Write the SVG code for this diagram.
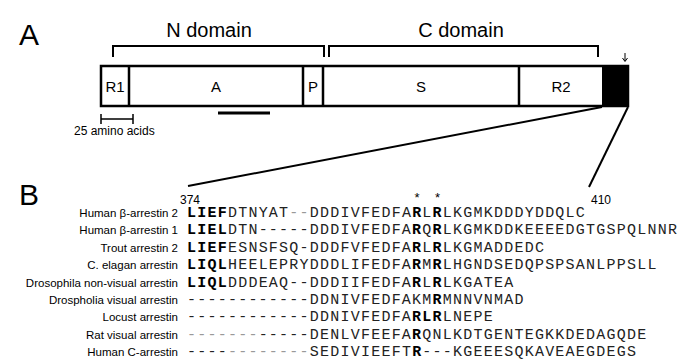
<svg xmlns="http://www.w3.org/2000/svg" width="683" height="360" viewBox="0 0 683 360">
<style>
.big{font-family:"Liberation Sans",Arial,sans-serif;font-size:30px;fill:#000}
.dom{font-family:"Liberation Sans",Arial,sans-serif;font-size:20px;fill:#000}
.seg{font-family:"Liberation Sans",Arial,sans-serif;font-size:15px;fill:#000;text-anchor:middle}
.lab{font-family:"Liberation Sans",Arial,sans-serif;font-size:11.5px;fill:#000;text-anchor:end}
.num{font-family:"Liberation Sans",Arial,sans-serif;font-size:12px;fill:#000;text-anchor:middle}
.ast{font-family:"Liberation Sans",Arial,sans-serif;font-size:13px;fill:#000;text-anchor:middle}
.seq{font-family:"Liberation Mono","Courier New",monospace;font-size:15px;letter-spacing:1.23px;fill:#222}
.b{font-weight:bold;fill:#000}
.r{font-weight:bold;fill:#000}
.g{fill:#999}
.ln{stroke:#000;fill:none}
</style>
<text class="big" x="19" y="45">A</text>
<text class="big" x="19" y="205">B</text>
<g id="brackets">
<text class="dom" x="209" y="37" text-anchor="middle">N domain</text>
<text class="dom" x="461" y="37" text-anchor="middle">C domain</text>
<path class="ln" stroke-width="2" d="M113,57 V46 H324 V57"/>
<path class="ln" stroke-width="2" d="M329,57 V46 H598 V57"/>
</g>
<g id="bar">
<rect x="101" y="66" width="527" height="40" fill="#fff" stroke="#000" stroke-width="2.5"/>
<rect x="602" y="66" width="26" height="40" fill="#000"/>
<path class="ln" stroke-width="2.5" d="M129,66 V106 M303,66 V106 M323,66 V106 M519,66 V106"/>
<text class="seg" x="115" y="92">R1</text>
<text class="seg" x="216" y="92">A</text>
<text class="seg" x="313" y="92">P</text>
<text class="seg" x="421" y="92">S</text>
<text class="seg" x="561" y="92">R2</text>
<path class="ln" stroke-width="1" d="M625,53 V61 M622.5,58 L625,61.5 L627.5,58"/>
</g>
<g id="scale">
<path class="ln" stroke-width="1.5" d="M101,119 H133 M101,114 V124 M133,114 V124"/>
<text class="lab" x="74" y="135" style="text-anchor:start;font-size:12px">25 amino acids</text>
<path class="ln" stroke-width="3" d="M218,113 H270"/>
</g>
<g id="connectors">
<path class="ln" stroke-width="2" d="M602,107 L188,186"/>
<path class="ln" stroke-width="2" d="M628,107 L589,187"/>
</g>
<g id="alignment">
<text class="num" x="190" y="204">374</text>
<text class="num" x="601" y="204">410</text>
<text class="ast" x="417" y="202">*</text>
<text class="ast" x="437.5" y="202">*</text>
<text class="lab" x="178" y="217">Human β-arrestin 2</text>
<text class="lab" x="178" y="234.4">Human β-arrestin 1</text>
<text class="lab" x="178" y="251.8">Trout arrestin 2</text>
<text class="lab" x="178" y="269.1">C. elagan arrestin</text>
<text class="lab" x="178" y="286.5">Drosophila non-visual arrestin</text>
<text class="lab" x="178" y="303.9">Drospholia visual arrestin</text>
<text class="lab" x="178" y="321.3">Locust arrestin</text>
<text class="lab" x="178" y="338.6">Rat visual arrestin</text>
<text class="lab" x="178" y="356">Human C-arrestin</text>
<text class="seq" x="187" y="217"><tspan class="b">LIEF</tspan>DTNYAT<tspan class="g">--</tspan>DDDIVFEDFA<tspan class="r">R</tspan>L<tspan class="r">R</tspan>LKGMKDDDYDDQLC</text>
<text class="seq" x="187" y="234.4"><tspan class="b">LIEL</tspan>DTN-----DDDIVFEDFA<tspan class="r">R</tspan>Q<tspan class="r">R</tspan>LKGMKDDKEEEEDGTGSPQLNNR</text>
<text class="seq" x="187" y="251.8"><tspan class="b">LIEF</tspan>ESNSFSQ-DDDFVFEDFA<tspan class="r">R</tspan>L<tspan class="r">R</tspan>LKGMADDEDC</text>
<text class="seq" x="187" y="269.1"><tspan class="b">LIQL</tspan>HEELEPRYDDDLIFEDFA<tspan class="r">R</tspan>M<tspan class="r">R</tspan>LHGNDSEDQPSPSANLPPSLL</text>
<text class="seq" x="187" y="286.5"><tspan class="b">LIQL</tspan>DDDEAQ--DDDIIFEDFA<tspan class="r">R</tspan>L<tspan class="r">R</tspan>LKGATEA</text>
<text class="seq" x="187" y="303.9">------------DDNIVFEDFAKM<tspan class="r">R</tspan>MNNVNMAD</text>
<text class="seq" x="187" y="321.3">------------DDNIVFEDFA<tspan class="r">RLR</tspan>LNEPE</text>
<text class="seq" x="187" y="338.6"><tspan class="g">-------</tspan>-----DENLVFEEFA<tspan class="r">R</tspan>QNLKDTGENTEGKKDEDAGQDE</text>
<text class="seq" x="187" y="356">----<tspan class="g">--------</tspan>SEDIVIEEFT<tspan class="r">R</tspan>---KGEEESQKAVEAEGDEGS</text>
</g>
</svg>
